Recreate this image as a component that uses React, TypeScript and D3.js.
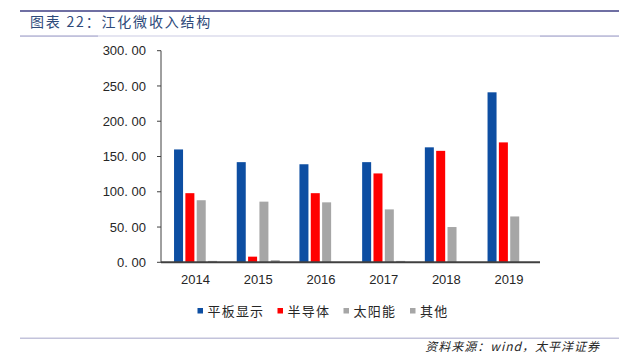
import React from "react";
import * as d3 from "d3";

const years = ["2014", "2015", "2016", "2017", "2018", "2019"];
const seriesNames = ["平板显示", "半导体", "太阳能", "其他"];
const flatPanel = [160, 142, 139, 142, 163, 241];
const semiconductor = [98, 8, 98, 126, 158, 170];
const solar = [88, 86, 85, 75, 50, 65];
const others = [2, 3, 0, 2, 0, 0];
const yTicks = [0, 50, 100, 150, 200, 250, 300];
const colors = ["#0D4EA2", "#FF0000", "#A6A6A6", "#A6A6A6"];

export default function App() {
  const W = 625, H = 357;
  const left = 161, right = 540, top = 50.7, bottom = 262.3;
  const series = [flatPanel, semiconductor, solar, others];
  const x = d3.scaleBand<string>().domain(years).range([164.2, 540.4]).paddingInner(0.314).paddingOuter(0.157);
  const xs = d3.scaleBand<number>().domain([0, 1, 2, 3]).range([0, x.bandwidth()]).paddingInner(0.206);
  const y = d3.scaleLinear().domain([0, 300]).range([bottom, top]);
  const sans = "'Liberation Sans', Arial, sans-serif";
  const cjk = "'Noto Sans CJK SC', sans-serif";
  const legendX = [197.5, 277.5, 343.5, 410];
  return (
    <svg width={W} height={H} style={{ position: "absolute", left: 0, top: 0, background: "#fff" }}>
      <rect x={0} y={0} width={W} height={H} fill="#fff" />
      {/* header */}
      <rect x={20} y={10} width={599} height={2} fill="#6F6FA3" />
      <text x={30} y={27} fontFamily={cjk} fontSize={14} letterSpacing={1.8} fill="#2E4A7A">图表 22：江化微收入结构</text>
      <rect x={20} y={35.5} width={599} height={1} fill="#CBCBE3" />
      <rect x={20} y={35.5} width={78} height={1.2} fill="#B3B3D3" />
      <rect x={540} y={35.5} width={79} height={1.2} fill="#B3B3D3" />
      {/* y axis */}
      <line x1={left} x2={left} y1={top} y2={bottom} stroke="#404040" strokeWidth={1} />
      {yTicks.map((t) => (
        <g key={t}>
          <line x1={left - 4} x2={left} y1={y(t)} y2={y(t)} stroke="#404040" strokeWidth={1} />
          <text x={146} y={y(t)} dy="0.35em" textAnchor="end" fontFamily={sans} fontSize={13} fill="#262626">
            {t.toFixed(2).replace(".", ". ")}
          </text>
        </g>
      ))}
      {/* bars */}
      {series.map((s, si) =>
        s.map((v, i) =>
          v > 0 ? (
            <rect
              key={si + "-" + i}
              x={(x(years[i]) as number) + (xs(si) as number)}
              y={y(v)}
              width={xs.bandwidth()}
              height={bottom - y(v)}
              fill={colors[si]}
            />
          ) : null
        )
      )}
      <line x1={left} x2={right} y1={bottom} y2={bottom} stroke="#404040" strokeWidth={2} />
      {years.map((yr) => (
        <text key={yr} x={(x(yr) as number) + x.bandwidth() / 2} y={283.5} textAnchor="middle" fontFamily={sans} fontSize={13} fill="#262626">
          {yr}
        </text>
      ))}
      {/* legend */}
      {seriesNames.map((n, i) => (
        <g key={n}>
          <rect x={legendX[i]} y={308} width={5.5} height={5.5} fill={colors[i]} />
          <text x={legendX[i] + 10} y={316} fontFamily={cjk} fontSize={13} letterSpacing={1.2} fill="#262626">{n}</text>
        </g>
      ))}
      {/* footer */}
      <rect x={20} y={337.5} width={599} height={1.5} fill="#C3C3DB" />
      <text x={600} y={351} textAnchor="end" fontFamily={cjk} fontSize={12} letterSpacing={1} fontStyle="italic" fill="#262626">
        资料来源：wind，太平洋证券
      </text>
    </svg>
  );
}
